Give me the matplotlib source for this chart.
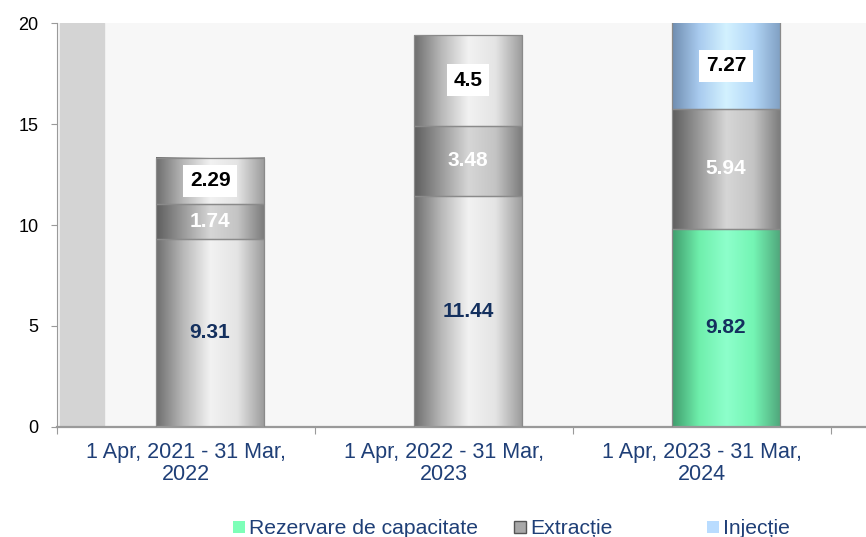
import matplotlib.pyplot as plt
import numpy as np
from matplotlib.colors import LinearSegmentedColormap
from matplotlib.patches import Patch, Rectangle

plt.rcParams['font.family'] = ['Liberation Sans', 'DejaVu Sans']

categories = ["1 Apr, 2021 - 31 Mar,\n2022", "1 Apr, 2022 - 31 Mar,\n2023", "1 Apr, 2023 - 31 Mar,\n2024"]
rezervare = [9.31, 11.44, 9.82]
extractie = [1.74, 3.48, 5.94]
injectie = [2.29, 4.5, 7.27]
# only the last period is coloured per series, the earlier ones are plain grey
bottom_colors = ['grey_light', 'grey_light', 'green']
top_colors = ['grey_light', 'grey_light', 'blue']

# cylinder shading: dark edge, bright stripe, darker edge
shades = {
    'grey_light': ['#6e6e6e', '#b8b8b8', '#f2f2f2', '#e4e4e4', '#9a9a9a'],
    'grey_dark': ['#5e5e5e', '#9a9a9a', '#d6d6d6', '#c4c4c4', '#7a7a7a'],
    'green': ['#3f9c6c', '#6fefac', '#8dffcb', '#74f5b4', '#4fa57a'],
    'blue': ['#6f8db0', '#a9cbef', '#d3f2ff', '#b3d6f7', '#7f9fc2'],
}
cmaps = {k: LinearSegmentedColormap.from_list(k, v) for k, v in shades.items()}
grad = np.linspace(0, 1, 256).reshape(1, -1)

fig = plt.figure(figsize=(8.66, 5.37), dpi=100)
ax = fig.add_axes([0.066, 0.205, 0.934, 0.752])
ax.set_facecolor('#f7f7f7')
ax.set_xlim(-0.5, 2.636)
ax.set_ylim(0, 20)

# side wall of the 3d chart
ax.axvspan(-0.49, -0.318, color='#d4d4d4', zorder=1)

width = 0.42
offset = 0.093


def segment(x, y0, h, kind):
    ax.imshow(grad, cmap=cmaps[kind], aspect='auto', zorder=2,
              extent=(x - width / 2, x + width / 2, y0, y0 + h))
    ax.add_patch(Rectangle((x - width / 2, y0), width, h, fill=False,
                           edgecolor='#8a8a8a', linewidth=0.9, zorder=3))


for i in range(len(categories)):
    x = i + offset
    b, m, t = rezervare[i], extractie[i], injectie[i]
    segment(x, 0, b, bottom_colors[i])
    segment(x, b, m, 'grey_dark')
    segment(x, b + m, t, top_colors[i])

    ax.text(x, b / 2, f'{b:g}', ha='center', va='center', fontsize=15,
            fontweight='bold', color='#14305e', zorder=4)
    ax.text(x, b + m / 2, f'{m:g}', ha='center', va='center', fontsize=15,
            fontweight='bold', color='white', zorder=4)
    top_mid = (b + m + min(b + m + t, 20)) / 2
    ax.text(x, top_mid, f'{t:g}', ha='center', va='center', fontsize=15,
            fontweight='bold', color='black', zorder=4,
            bbox=dict(boxstyle='square,pad=0.32', facecolor='white', edgecolor='none'))

for s in ['top', 'right']:
    ax.spines[s].set_visible(False)
ax.spines['left'].set_color('#9a9a9a')
ax.spines['bottom'].set_color('#9a9a9a')
ax.spines['bottom'].set_linewidth(1.6)

ax.set_yticks([0, 5, 10, 15, 20])
ax.tick_params(axis='y', labelsize=13, length=4, color='#9a9a9a', pad=9.5)
ax.set_xticks([-0.5, 0.5, 1.5, 2.5])
ax.set_xticklabels([])
ax.tick_params(axis='x', which='major', length=5, color='#9a9a9a')
ax.set_xticks([0, 1, 2], minor=True)
ax.set_xticklabels(categories, minor=True, fontsize=15.5, color='#1f3f77', linespacing=1.08)
ax.tick_params(axis='x', which='minor', length=0, pad=11)

# legend entries are spaced unevenly, so place each one on its own
legend_labels = ['Rezervare de capacitate', 'Extracție', 'Injecție']
handles = [Patch(facecolor='#7dffb8', edgecolor='none'),
           Patch(facecolor='#a8a8a8', edgecolor='#555555'),
           Patch(facecolor='#b9dcff', edgecolor='none')]
legend_x = [233, 514, 707]
for h, lab, lx in zip(handles, legend_labels, legend_x):
    fig.legend([h], [lab], loc='center left', bbox_to_anchor=(lx / 866, 0.015),
               frameon=False, fontsize=15.2, handlelength=0.55, handleheight=0.55,
               handletextpad=0.2, borderpad=0, borderaxespad=0, labelcolor='#1f3f77')

fig.savefig('out.png', dpi=100)
